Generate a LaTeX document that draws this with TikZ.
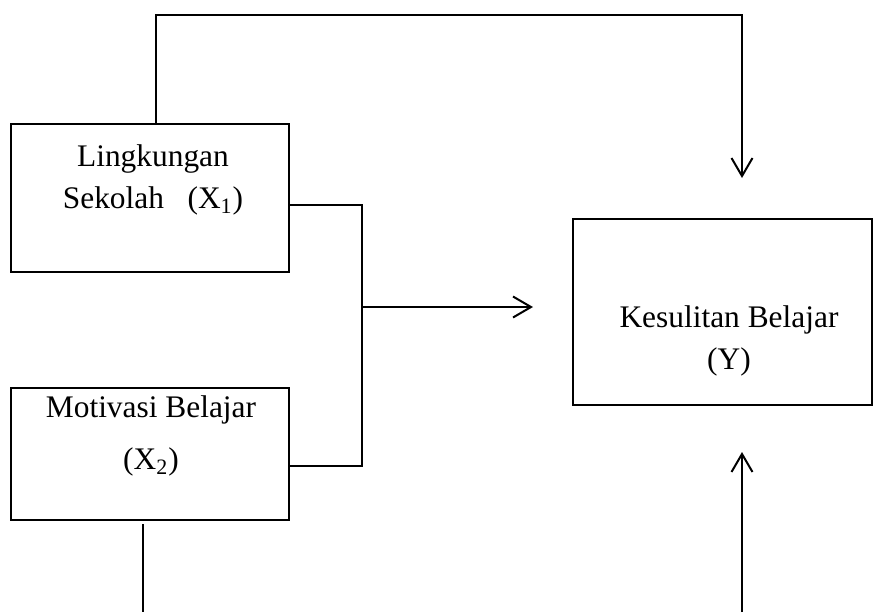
\documentclass[tikz,border=0pt]{standalone}
\usepackage{fontspec}
\setmainfont{Liberation Serif}
\usetikzlibrary{arrows.meta}
\tikzset{
  kotak/.style={rectangle, draw, line width=1pt, outer sep=0pt, inner sep=0pt},
  teks/.style={align=center, inner sep=0pt, font=\fontsize{15.7}{21}\selectfont},
  panah/.style={-{Straight Barb[length=9pt,width=10.5pt,line width=1pt]}, line width=1pt}
}
\begin{document}
\begin{tikzpicture}[x=0.5pt,y=-0.5pt]
\useasboundingbox (0,0) rectangle (874,612);

\node [kotak, minimum width=139pt, minimum height=74pt] (x1) at (150,198) {};
\node [kotak, minimum width=139pt, minimum height=66pt] (x2) at (150,454) {};
\node [kotak, minimum width=149.5pt, minimum height=93pt] (y) at (722.5,312) {};

\node [teks] (lx1) at (153,180) {Lingkungan\\Sekolah\ \ \ (X\textsubscript{1})};
\node [teks] (lx2) at (151,436) {Motivasi Belajar\\[5pt](X\textsubscript{2})};
\node [teks] (ly) at (729,341) {Kesulitan Belajar\\(Y)};

\coordinate (k1) at (742,15);
\coordinate (t1) at (742,178);
\coordinate (g1) at (362,205);
\coordinate (g2) at (362,466);
\coordinate (g3) at (362,307);
\coordinate (t2) at (533,307);
\coordinate (d1) at (143,612);
\coordinate (d2) at (742,612);
\coordinate (t3) at (742,452);

\draw [panah] ([xshift=3pt]x1.north) |- (k1) -- (t1);
\draw [line width=1pt] (x1.east |- g1) -- (g1) -- (g2) -- (x2.east |- g2);
\draw [panah] (g3) -- (t2);
\draw [line width=1pt] ([yshift=-2pt]x2.south -| d1) -- (d1);
\draw [panah] (d2) -- (t3);
\end{tikzpicture}
\end{document}
